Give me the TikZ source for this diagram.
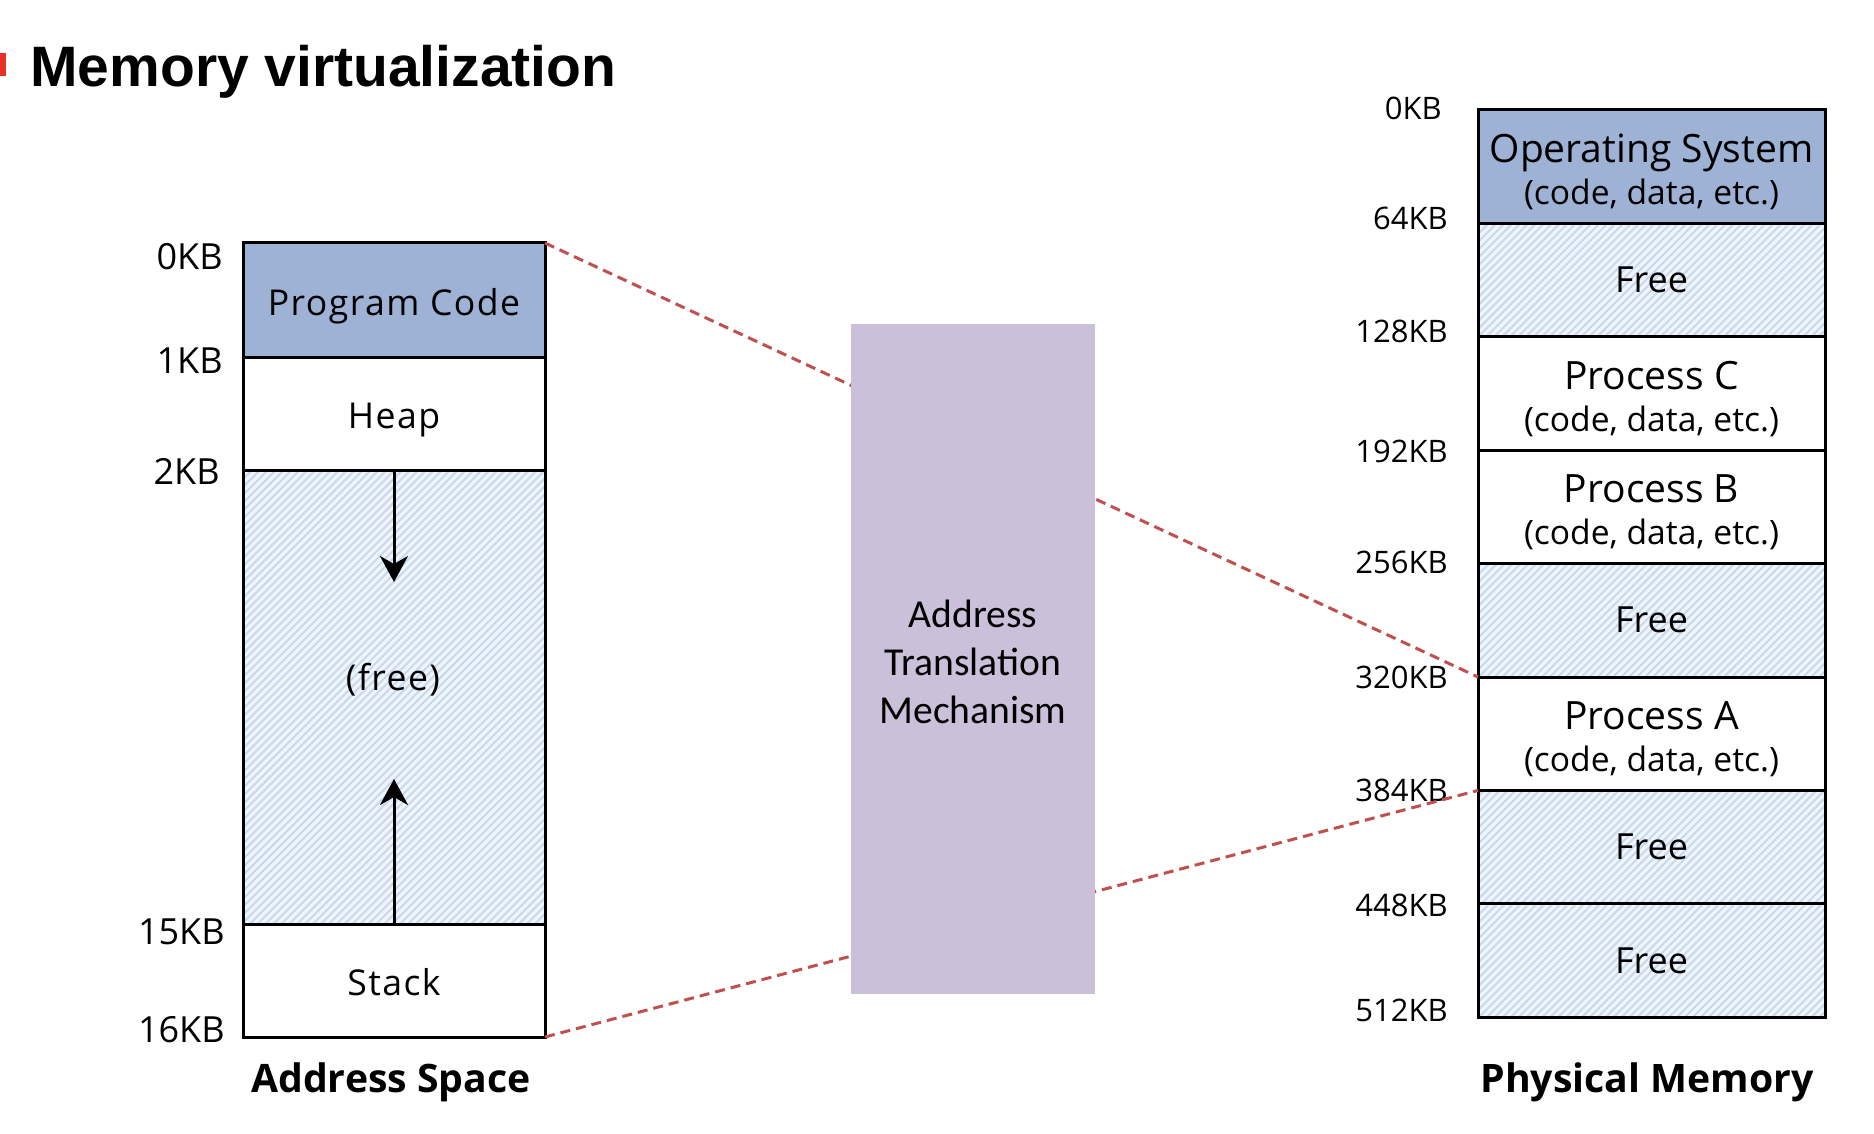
\documentclass[tikz,border=0pt]{standalone}
\usepackage{fontspec}
\setmainfont{Open Sans}
\newfontfamily\midfont{Carlito}
\newfontfamily\headfont{Liberation Sans}
\usetikzlibrary{arrows.meta,patterns.meta}

\definecolor{osblue}{RGB}{157,178,212}
\definecolor{atmgray}{RGB}{202,192,217}
\definecolor{hatchbg}{RGB}{240,245,252}
\definecolor{hatchln}{RGB}{200,216,238}
\definecolor{linkred}{RGB}{192,80,77}
\definecolor{headred}{RGB}{230,50,40}

\tikzset{
  vblock/.style={draw, line width=1.5pt, minimum width=151pt, inner sep=0pt, outer sep=0pt,
    text height=15.4pt, text depth=0pt, font=\fontsize{17.8}{20}\selectfont\addfontfeatures{LetterSpace=4}},
  pblock/.style={draw, line width=1.5pt, minimum width=173.5pt, minimum height=56.7pt, inner sep=0pt, outer sep=0pt,
    align=center, font=\fontsize{19.5}{22}\selectfont},
  hatched/.style={preaction={fill=hatchbg}, pattern={Lines[angle=45,distance=2.8pt,line width=1pt]}, pattern color=hatchln},
  kbleft/.style={anchor=east, inner sep=0pt, font=\fontsize{18}{20}\selectfont},
  kbright/.style={anchor=east, inner sep=0pt, font=\fontsize{15.5}{18}\selectfont},
  colcaption/.style={font=\fontsize{19.6}{22}\selectfont\bfseries},
  link/.style={linkred, line width=1.5pt, dash pattern=on 5pt off 3pt},
  growarrow/.style={line width=1.5pt, -{Stealth[length=13pt, width=14pt, inset=4pt]}},
}
\newcommand{\twoline}[2]{\rule{0pt}{19.5pt}#1\\[-1pt]{\fontsize{16.8}{20}\selectfont #2}}
\newcommand{\freetext}{\fontsize{18}{20}\selectfont Free}

\begin{document}
\begin{tikzpicture}[x=0.5pt,y=-0.5pt]
\useasboundingbox (0,0) rectangle (1874,1134);
% heading
\fill[headred] (0,53) rectangle (6,76);
\node[anchor=base west, inner sep=0pt, font=\headfont\bfseries\fontsize{28.5}{34}\selectfont] (head) at (30,87) {Memory virtualization};

% address space
\node[vblock, fill=osblue, minimum height=57pt] (code) at (394,300) {Program Code};
\node[vblock, minimum height=56.5pt] (heap) at (394,413.5) {Heap};
\node[vblock, hatched, minimum height=227pt] (gap) at (394,697) {};
\node[vblock, minimum height=56.5pt] (stack) at (394,980.5) {Stack};
\node[font=\fontsize{17.8}{20}\selectfont\addfontfeatures{LetterSpace=4}] (gaptext) at (393,680) {(free)};
\coordinate (heapend) at (394,582);
\coordinate (stackend) at (394,779);
\draw[growarrow] (gap.north) -- (heapend);
\draw[growarrow] (gap.south) -- (stackend);

\node[kbleft] (l0) at (223,257) {0KB};
\node[kbleft] (l1) at (223,361) {1KB};
\node[kbleft] (l2) at (220,471) {2KB};
\node[kbleft] (l15) at (225,932) {15KB};
\node[kbleft] (l16) at (225,1030) {16KB};
\node[colcaption] (asp) at (391,1082) {Address Space};

% physical memory
\node[pblock, fill=osblue] (os) at (1651.5,166.7) {\twoline{Operating System}{(code, data, etc.)}};
\node[pblock, hatched] (free1) at (1651.5,280.1) {\freetext};
\node[pblock] (procC) at (1651.5,393.5) {\twoline{Process C}{(code, data, etc.)}};
\node[pblock] (procB) at (1651.5,506.9) {\twoline{Process B}{(code, data, etc.)}};
\node[pblock, hatched] (free2) at (1651.5,620.3) {\freetext};
\node[pblock] (procA) at (1651.5,733.7) {\twoline{Process A}{(code, data, etc.)}};
\node[pblock, hatched] (free3) at (1651.5,847.1) {\freetext};
\node[pblock, hatched] (free4) at (1651.5,960.5) {\freetext};

\node[kbright] (r0) at (1442,108) {0KB};
\node[kbright] (r64) at (1448,218) {64KB};
\node[kbright] (r128) at (1448,331) {128KB};
\node[kbright] (r192) at (1448,451) {192KB};
\node[kbright] (r256) at (1448,562) {256KB};
\node[kbright] (r320) at (1448,677) {320KB};
\node[kbright] (r384) at (1448,790) {384KB};
\node[kbright] (r448) at (1448,905) {448KB};
\node[kbright] (r512) at (1448,1010) {512KB};
\node[colcaption] (pm) at (1647,1082) {Physical Memory};

% translation
\draw[link] (code.north east) -- (procA.north west);
\draw[link] (stack.south east) -- (procA.south west);
\node[fill=atmgray, minimum width=122pt, minimum height=335pt, inner sep=0pt, align=center,
  font=\midfont\fontsize{19.8}{24}\selectfont] (atm) at (973,659) {\rule{0pt}{17pt}Address\\Translation\\Mechanism};
\end{tikzpicture}
\end{document}
